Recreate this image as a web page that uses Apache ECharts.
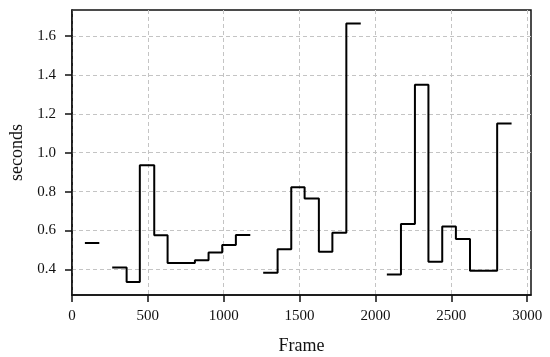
<!DOCTYPE html>
<html>
<head>
<meta charset="utf-8">
<script src="https://cdn.jsdelivr.net/npm/echarts@6/dist/echarts.min.js"></script>
<style>
  html, body { margin: 0; padding: 0; background: #fff; }
</style>
</head>
<body>
<div id="chart" style="width: 550px; height: 357px"></div>
<script>
// step starts (frame) and value held until the next frame; null = end of a run (gap)
const frames = [85, 180, 265, 360, 447, 542, 630, 810, 900, 990, 1080, 1175,
  1260, 1355, 1445, 1533, 1627, 1716, 1808, 1903,
  2075, 2168, 2260, 2349, 2440, 2530, 2623, 2802, 2897];
const seconds = [0.535, null, 0.41, 0.335, 0.935, 0.575, 0.432, 0.447, 0.487, 0.525, 0.577, null,
  0.383, 0.503, 0.822, 0.765, 0.49, 0.588, 1.665, null,
  0.374, 0.633, 1.35, 0.439, 0.62, 0.556, 0.393, 1.15, null];
const xTicks = [0, 500, 1000, 1500, 2000, 2500, 3000];
const yTicks = [0.4, 0.6, 0.8, 1.0, 1.2, 1.4, 1.6];

const font = "Liberation Serif";

// build the step data: a null closes the previous step, then breaks the line
const buildData = () => {
  let data = [];
  for (let i = 0; i < frames.length; i++) {
    if (seconds[i] === null) {
      data.push([frames[i], seconds[i - 1]]);
      data.push([frames[i], "-"]);
    } else {
      data.push([frames[i], seconds[i]]);
    }
  }
  return data;
};

const myChart = echarts.init(document.getElementById("chart"));

const option = {
  animation: false,
  grid: {
    left: 72, right: 19, top: 10, bottom: 62,
    outerBoundsMode: "none", // v6 would otherwise shrink the grid to fit the names
    show: true,
    borderColor: "#111",
    borderWidth: 1.5,
    backgroundColor: "transparent"
  },
  xAxis: {
    type: "value",
    min: 0,
    max: 3025,
    name: "Frame",
    nameLocation: "middle",
    nameGap: 42,
    nameTextStyle: { fontFamily: font, fontSize: 18, color: "#111" },
    axisLine: { onZero: false, lineStyle: { color: "#111", width: 1.5 } },
    axisTick: { customValues: xTicks, length: 7, lineStyle: { color: "#111", width: 1.5 } },
    axisLabel: {
      customValues: xTicks,
      margin: 14,
      fontFamily: font,
      fontSize: 15,
      color: "#111",
      formatter: v => String(v)
    },
    splitLine: { show: true, lineStyle: { color: "#c4c4c4", type: [4, 3], width: 1 } }
  },
  yAxis: {
    type: "value",
    min: 0.268,
    max: 1.734,
    name: "seconds",
    nameLocation: "middle",
    nameGap: 40,
    nameTextStyle: { fontFamily: font, fontSize: 18, color: "#111" },
    axisLine: { show: true, onZero: false, lineStyle: { color: "#111", width: 1.5 } },
    axisTick: { show: true, customValues: yTicks, length: 7, lineStyle: { color: "#111", width: 1.5 } },
    axisLabel: {
      customValues: yTicks,
      margin: 16,
      fontFamily: font,
      fontSize: 15,
      color: "#111",
      formatter: v => v.toFixed(1)
    },
    splitLine: { show: true, lineStyle: { color: "#c4c4c4", type: [4, 3], width: 1 } }
  },
  series: [
    {
      type: "line",
      step: "end",
      showSymbol: false,
      connectNulls: false,
      lineStyle: { color: "#000", width: 2 },
      data: buildData()
    }
  ]
};

myChart.setOption(option);
</script>
</body>
</html>
